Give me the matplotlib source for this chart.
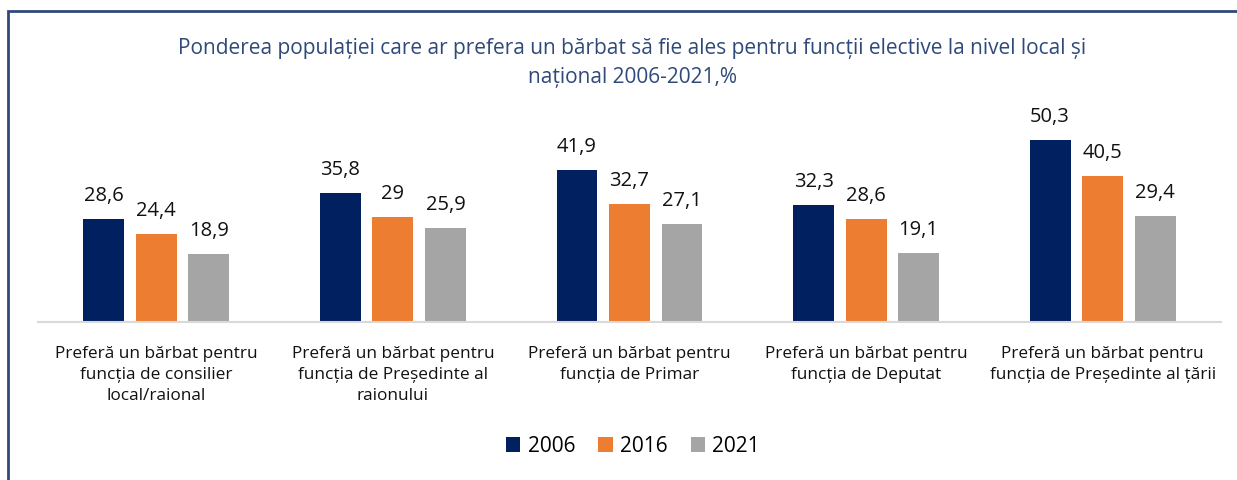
import numpy as np
import matplotlib.pyplot as plt
from matplotlib.patches import Rectangle

categorii = ['Preferă un bărbat pentru\nfuncția de consilier\nlocal/raional',
             'Preferă un bărbat pentru\nfuncția de Președinte al\nraionului',
             'Preferă un bărbat pentru\nfuncția de Primar',
             'Preferă un bărbat pentru\nfuncția de Deputat',
             'Preferă un bărbat pentru\nfuncția de Președinte al țării']
ani = ['2006', '2016', '2021']
v2006 = [28.6, 35.8, 41.9, 32.3, 50.3]
v2016 = [24.4, 29, 32.7, 28.6, 40.5]
v2021 = [18.9, 25.9, 27.1, 19.1, 29.4]
culori = ['#002060', '#ED7D31', '#A5A5A5']

plt.rcParams['font.family'] = ['Open Sans', 'DejaVu Sans']

fig = plt.figure(figsize=(12.37, 4.8), dpi=100)
# chenarul
fig.add_artist(Rectangle((8/1237, -0.1), 1.2, (480-11)/480 + 0.1, transform=fig.transFigure,
                         fill=False, edgecolor='#2F4A7A', linewidth=2))

ax = fig.add_axes([38/1237, (480-322)/480, (1221-38)/1237, 217/480])
x = np.arange(len(categorii))
w = 0.173
pas = 0.222
for i, (vals, an) in enumerate(zip([v2006, v2016, v2021], ani)):
  bars = ax.bar(x + (i-1)*pas, vals, w, color=culori[i], label=an)
  for b, v in zip(bars, vals):
    ax.text(b.get_x() + b.get_width()/2, v + 3.6, str(v).replace('.', ','),
            ha='center', va='bottom', fontsize=14.5, color='#111111')

ax.set_xlim(-0.5, len(categorii) - 0.5)
ax.set_ylim(0, 60)
ax.set_yticks([])
ax.set_xticks(x)
ax.set_xticklabels(categorii, fontsize=12.4, color='#111111', linespacing=1.42)
ax.tick_params(axis='x', length=0, pad=17)
for s in ['top', 'right', 'left']:
  ax.spines[s].set_visible(False)
ax.spines['bottom'].set_color('#D9D9D9')
ax.spines['bottom'].set_linewidth(1.5)

fig.text(632/1237, 1 - 63/480, 'Ponderea populației care ar prefera un bărbat să fie ales pentru funcții elective la nivel local și\nnațional 2006-2021,%',
         ha='center', va='center', fontsize=15, color='#2F4A7A', linespacing=1.5)

fig.legend(loc='center', bbox_to_anchor=(633/1237, 1 - 446/480), ncol=3, frameon=False,
           fontsize=15, handlelength=0.7, handleheight=0.7, handletextpad=0.35, columnspacing=1.1)

fig.savefig('out.png', dpi=100)
